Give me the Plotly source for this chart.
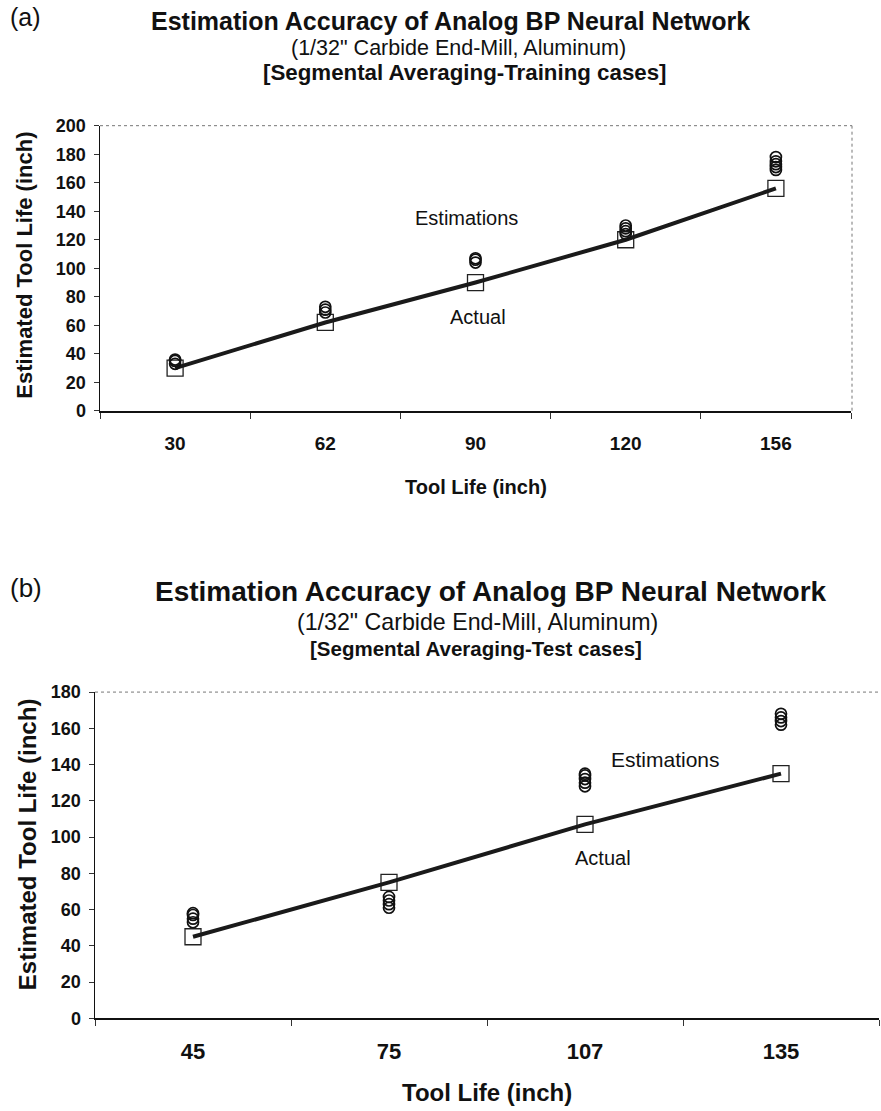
import plotly.graph_objects as go

W, H = 881, 1111

# Panel (a) data
a_cats = ["30", "62", "90", "120", "156"]
a_actual = [30, 62, 90, 120, 156]
a_est = [
    [33, 35, 36],
    [69, 71, 73],
    [104, 106, 107],
    [124, 126, 128, 130],
    [169, 171, 173, 175, 178],
]
a_yticks = list(range(0, 201, 20))

# Panel (b) data
b_cats = ["45", "75", "107", "135"]
b_actual = [45, 75, 107, 135]
b_est = [
    [53, 55, 57, 58],
    [61, 63, 65, 67],
    [128, 130, 132, 134, 135],
    [162, 164, 166, 168],
]
b_yticks = list(range(0, 181, 20))

FONT = "Liberation Sans, Arial, sans-serif"


def px(x):
    return x / W


def py(y):
    # pixel row in the target picture -> paper coordinate (with small calibration)
    yy = (y - 10.4) / 0.9813
    return 1 - yy / H


fig = go.Figure()


def add_panel(cats, actual, est, xa, ya):
    xs, ys = [], []
    for i, vals in enumerate(est):
        for v in vals:
            xs.append(i)
            ys.append(v)
    idx = list(range(len(cats)))
    fig.add_trace(go.Scatter(x=idx, y=actual, mode="markers", xaxis=xa, yaxis=ya,
                             marker=dict(symbol="square-open", size=16, color="#222",
                                         line=dict(width=1.3, color="#222")),
                             showlegend=False, hoverinfo="skip"))
    fig.add_trace(go.Scatter(x=idx, y=actual, mode="lines", xaxis=xa, yaxis=ya,
                             line=dict(color="#1a1a1a", width=4),
                             showlegend=False, hoverinfo="skip"))
    fig.add_trace(go.Scatter(x=xs, y=ys, mode="markers", xaxis=xa, yaxis=ya,
                             marker=dict(symbol="circle-open", size=11, color="#111",
                                         line=dict(width=1.7, color="#111")),
                             showlegend=False, hoverinfo="skip"))


add_panel(a_cats, a_actual, a_est, "x", "y")
add_panel(b_cats, b_actual, b_est, "x2", "y2")

fig.update_layout(
    width=W, height=H,
    margin=dict(l=0, r=0, t=0, b=0),
    paper_bgcolor="white", plot_bgcolor="white",
    xaxis=dict(domain=[px(100), px(851)], anchor="y", range=[-0.5, 4.5],
               tickvals=list(range(5)), ticktext=a_cats, ticks="",
               tickfont=dict(family=FONT, size=19, color="#111", weight="bold"),
               ticklabelstandoff=14,
               showline=True, linecolor="#111", linewidth=2, showgrid=False, zeroline=False,
               minor=dict(tickvals=[-0.5, 0.5, 1.5, 2.5, 3.5, 4.5], ticks="outside",
                          ticklen=6, tickcolor="#333", tickwidth=1, showgrid=False)),
    yaxis=dict(domain=[py(411), py(126)], anchor="x", range=[0, 200],
               tickvals=a_yticks, ticks="outside", ticklen=5, tickcolor="#333",
               tickfont=dict(family=FONT, size=18, color="#111", weight="bold"),
               ticklabelstandoff=4,
               showline=True, linecolor="#111", linewidth=1.5, showgrid=False, zeroline=False),
    xaxis2=dict(domain=[px(95), px(879)], anchor="y2", range=[-0.5, 3.5],
                tickvals=list(range(4)), ticktext=b_cats, ticks="",
                tickfont=dict(family=FONT, size=22, color="#111", weight="bold"),
                ticklabelstandoff=12,
                showline=True, linecolor="#111", linewidth=2, showgrid=False, zeroline=False,
                minor=dict(tickvals=[-0.5, 0.5, 1.5, 2.5, 3.5], ticks="outside",
                           ticklen=6, tickcolor="#333", tickwidth=1, showgrid=False)),
    yaxis2=dict(domain=[py(1018), py(692)], anchor="x2", range=[0, 180],
                tickvals=b_yticks, ticks="outside", ticklen=5, tickcolor="#333",
                tickfont=dict(family=FONT, size=18, color="#111", weight="bold"),
                ticklabelstandoff=4,
                showline=True, linecolor="#111", linewidth=1.5, showgrid=False, zeroline=False),
)

# dotted borders
fig.add_shape(type="line", xref="paper", yref="paper", x0=px(100), x1=px(852), y0=py(126), y1=py(126),
              line=dict(color="#777", width=1, dash="dot"))
fig.add_shape(type="line", xref="paper", yref="paper", x0=px(852), x1=px(852), y0=py(126), y1=py(411),
              line=dict(color="#777", width=1, dash="dot"))
fig.add_shape(type="line", xref="paper", yref="paper", x0=px(95), x1=1, y0=py(692), y1=py(692),
              line=dict(color="#777", width=1, dash="dot"))


def text(x, y, s, size, bold=False, angle=0):
    fig.add_annotation(xref="paper", yref="paper", x=px(x), y=py(y), text=s, showarrow=False,
                       xanchor="center", yanchor="middle", textangle=angle,
                       font=dict(family=FONT, size=size, color="#111",
                                 weight="bold" if bold else "normal"))


# panel (a) texts
text(25, 17, "(a)", 25)
text(451, 21, "Estimation Accuracy of Analog BP Neural Network", 25, True)
text(458, 48, "(1/32\" Carbide End-Mill, Aluminum)", 21.5, False)
text(465, 73, "[Segmental Averaging-Training cases]", 22.3, True)
text(467, 218, "Estimations", 20)
text(478, 317, "Actual", 20)
text(476, 487, "Tool Life (inch)", 20, True)
text(25, 266, "Estimated Tool Life (inch)", 22, True, -90)

# panel (b) texts
text(26, 588, "(b)", 26)
text(491, 591, "Estimation Accuracy of Analog BP Neural Network", 28, True)
text(477, 622, "(1/32\" Carbide End-Mill, Aluminum)", 23.2)
text(476, 648, "[Segmental Averaging-Test cases]", 20.5, True)
text(665, 759, "Estimations", 21)
text(603, 858, "Actual", 20)
text(487, 1092, "Tool Life (inch)", 24, True)
text(27, 844, "Estimated Tool Life (inch)", 24, True, -90)

fig.write_html(
    "out.html",
    config={"displayModeBar": False, "staticPlot": True},
    post_script=(
        "document.documentElement.style.margin='0';"
        "document.documentElement.style.overflow='hidden';"
        "document.body.style.margin='0';"
        "document.body.style.overflow='hidden';"
    ),
)
